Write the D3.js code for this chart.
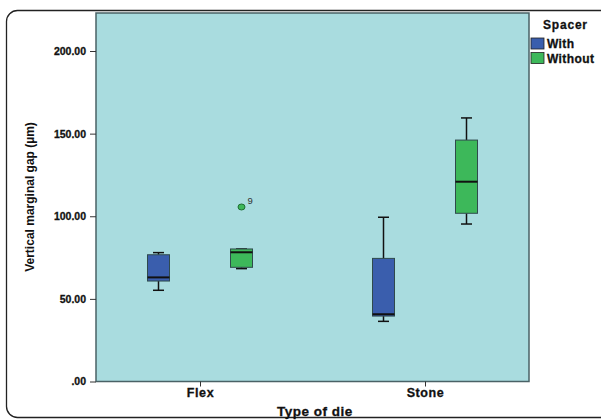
<!DOCTYPE html>
<html><head><meta charset="utf-8">
<script src="https://cdn.jsdelivr.net/npm/d3@7/dist/d3.min.js"></script>
<style>body{margin:0;background:#fff;} svg{display:block;font-family:Arial,"Liberation Sans",sans-serif;}</style>
</head><body>
<svg id="c" width="601" height="420"></svg>
<script>
const categories = ["Flex", "Stone"];
const groups = ["With", "Without"];
const groupColors = ["#3A5EAD", "#3DB85A"];
// [category, group, whiskerLow, q1, median, q3, whiskerHigh]
const stats = [
  ["Flex", "With", 55.2, 60.8, 63.0, 76.7, 78.0],
  ["Flex", "Without", 68.3, 69.1, 78.2, 80.2, 80.2],
  ["Stone", "With", 36.4, 39.6, 40.7, 74.5, 99.4],
  ["Stone", "Without", 95.3, 101.8, 120.9, 146.1, 159.5]
];
const outliers = [["Flex", "Without", 105.6, "9"]];
const yTicks = [0, 50, 100, 150, 200];

const svg = d3.select("#c");
const m = {l: 96, t: 13, r: 529, b: 381.5};

// outer rounded frame
svg.append("rect").attr("x", 6.5).attr("y", 10.5).attr("width", 640).attr("height", 407)
  .attr("rx", 11).attr("fill", "none").attr("stroke", "#222").attr("stroke-width", 1.3);

const y = d3.scaleLinear().domain([0, 223]).range([m.b, m.t]);
const x = d3.scalePoint().domain(categories).range([200, 425]);
const xo = d3.scalePoint().domain(groups).range([-41.5, 41.5]);

svg.append("rect").attr("x", m.l).attr("y", m.t).attr("width", m.r - m.l).attr("height", m.b - m.t)
  .attr("fill", "#A9DCDF").attr("stroke", "#4a6266").attr("stroke-width", 1.5);

// y axis
const ya = svg.append("g").attr("transform", `translate(${m.l},0)`)
  .call(d3.axisLeft(y).tickValues(yTicks).tickSize(6)
    .tickFormat(d => d === 0 ? ".00" : d3.format(".2f")(d)));
ya.select(".domain").remove();
ya.selectAll("line").attr("stroke", "#333");
ya.selectAll("text").attr("font-size", 10.5).attr("font-weight", "900").attr("fill", "#111")
  .attr("stroke", "#111").attr("stroke-width", 0.3).attr("dx", -1);

// x axis
const xa = svg.append("g").attr("transform", `translate(0,${m.b})`)
  .call(d3.axisBottom(x).tickSize(5));
xa.select(".domain").remove();
xa.selectAll("line").attr("stroke", "#333");
xa.selectAll("text").attr("font-size", 12.5).attr("font-weight", "bold").attr("fill", "#111")
  .attr("stroke", "#111").attr("stroke-width", 0.3).attr("letter-spacing", 0.6).attr("dy", 7);

// titles
svg.append("text").attr("transform", `translate(34,197) rotate(-90)`).attr("text-anchor", "middle")
  .attr("font-size", 12).attr("font-weight", "bold").attr("fill", "#111").text("Vertical marginal gap (µm)");
svg.append("text").attr("x", 315).attr("y", 415.5).attr("text-anchor", "middle")
  .attr("font-size", 13.5).attr("font-weight", "bold").attr("fill", "#111")
  .attr("stroke", "#111").attr("stroke-width", 0.3).attr("letter-spacing", 0.5).text("Type of die");

// boxes
const bw = 22, cap = 11;
const g = svg.append("g");
stats.forEach(([cat, grp, lo, q1, med, q3, hi]) => {
  const cx = x(cat) + xo(grp);
  const col = groupColors[groups.indexOf(grp)];
  g.append("line").attr("x1", cx).attr("x2", cx).attr("y1", y(hi)).attr("y2", y(q3)).attr("stroke", "#111").attr("stroke-width", 1.5);
  g.append("line").attr("x1", cx).attr("x2", cx).attr("y1", y(q1)).attr("y2", y(lo)).attr("stroke", "#111").attr("stroke-width", 1.5);
  g.append("line").attr("x1", cx - cap/2).attr("x2", cx + cap/2).attr("y1", y(hi)).attr("y2", y(hi)).attr("stroke", "#111").attr("stroke-width", 1.5);
  g.append("line").attr("x1", cx - cap/2).attr("x2", cx + cap/2).attr("y1", y(lo)).attr("y2", y(lo)).attr("stroke", "#111").attr("stroke-width", 1.5);
  g.append("rect").attr("x", cx - bw/2).attr("y", y(q3)).attr("width", bw).attr("height", y(q1) - y(q3))
    .attr("fill", col).attr("stroke", "#2f4a4c").attr("stroke-width", 1);
  g.append("line").attr("x1", cx - bw/2).attr("x2", cx + bw/2).attr("y1", y(med)).attr("y2", y(med)).attr("stroke", "#111").attr("stroke-width", 2);
});
outliers.forEach(([cat, grp, v, lab]) => {
  const cx = x(cat) + xo(grp);
  g.append("ellipse").attr("cx", cx).attr("cy", y(v)).attr("rx", 3.5).attr("ry", 3)
    .attr("fill", groupColors[groups.indexOf(grp)]).attr("stroke", "#1e6e33").attr("stroke-width", 1);
  g.append("text").attr("x", cx + 6).attr("y", y(v) - 3).attr("font-size", 9.5).attr("fill", "#333").text(lab);
});

// legend
svg.append("text").attr("x", 543).attr("y", 29).attr("font-size", 12).attr("font-weight", "bold").attr("fill", "#111")
  .attr("stroke", "#111").attr("stroke-width", 0.3).attr("letter-spacing", 0.8).text("Spacer");
groups.forEach((grp, i) => {
  const yy = 38 + i * 14.5;
  svg.append("rect").attr("x", 531).attr("y", yy).attr("width", 13).attr("height", 11)
    .attr("fill", groupColors[i]).attr("stroke", "#222").attr("stroke-width", 0.8);
  svg.append("text").attr("x", 547).attr("y", yy + 10).attr("font-size", 12).attr("font-weight", "bold").attr("fill", "#111")
    .attr("stroke", "#111").attr("stroke-width", 0.3).attr("letter-spacing", 0.4).text(grp);
});
</script>
</body></html>
